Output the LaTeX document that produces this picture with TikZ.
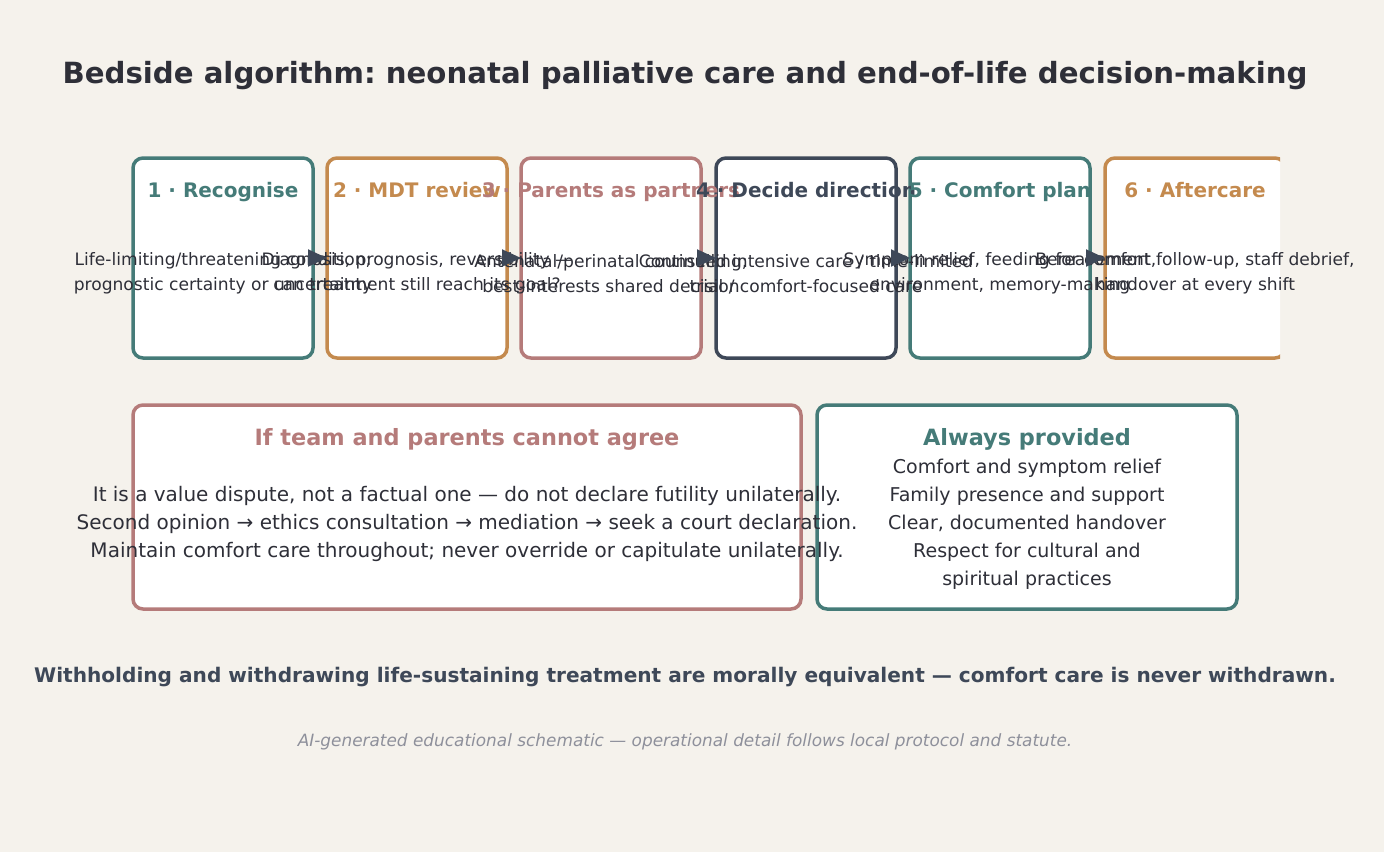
\documentclass[tikz,border=0pt]{standalone}
\usepackage{fontspec}
\setmainfont{DejaVu Sans}
\usetikzlibrary{arrows.meta}
\definecolor{bgc}{HTML}{F5F2EC}
\definecolor{cteal}{HTML}{457B78}
\definecolor{cochre}{HTML}{C48A4E}
\definecolor{crose}{HTML}{B57B7A}
\definecolor{cslate}{HTML}{3E4858}
\definecolor{cink}{HTML}{2E2F38}
\definecolor{cmuted}{HTML}{8E909B}
\frenchspacing
\begin{document}
\begin{tikzpicture}[x=1pt,y=-1pt,
  stepbox/.style={draw=#1, line width=3.5pt, rounded corners=10pt, fill=white,
    minimum width=180pt, minimum height=200pt, anchor=north west, inner sep=0pt, outer sep=0pt},
  panel/.style={draw=#1, line width=3.5pt, rounded corners=10pt, fill=white,
    minimum height=204pt, anchor=north west, inner sep=0pt, outer sep=0pt},
  steptitle/.style={font=\fontsize{20}{24}\selectfont\bfseries, text=#1, inner sep=0pt, anchor=base},
  stepbody/.style={font=\fontsize{17.1}{25}\selectfont, text=cink, align=center, inner sep=0pt},
  paneltitle/.style={font=\fontsize{22.4}{26}\selectfont\bfseries, text=#1, inner sep=0pt},
  flowarrow/.style={draw=cslate, line width=2pt, -{Triangle[length=19pt,width=17pt]}},
]
\fill[bgc] (0,0) rectangle (1384,852);
\useasboundingbox (0,0) rectangle (1384,852);

\node[font=\fontsize{29.2}{34}\selectfont\bfseries, text=cink] (title) at (685,76)
  {Bedside algorithm: neonatal palliative care and end-of-life decision-making};

% step boxes
\node[stepbox=cteal] (b1) at (133,158) {};
\node[stepbox=cochre] (b2) at (327,158) {};
\node[stepbox=crose] (b3) at (521,158) {};
\node[stepbox=cslate] (b4) at (716,158) {};
\node[stepbox=cteal] (b5) at (910,158) {};
\begin{scope}
  \clip (0,0) rectangle (1280,852);
  \node[stepbox=cochre] (b6) at (1105,158) {};
\end{scope}

\node[steptitle=cteal] (t1) at (223,197) {1 · Recognise};
\node[steptitle=cochre] (t2) at (417,197) {2 · MDT review};
\node[steptitle=crose] (t3) at (611,197) {3 · Parents as partners};
\node[steptitle=cslate] (t4) at (806,197) {4 · Decide direction};
\node[steptitle=cteal] (t5) at (1000,197) {5 · Comfort plan};
\node[steptitle=cochre] (t6) at (1195,197) {6 · Aftercare};

\node[stepbody] (d1) at (223,273.5) {Life-limiting/threatening condition;\\prognostic certainty or uncertainty};
\node[stepbody] (d2) at (417,273.5) {Diagnosis, prognosis, reversibility —\\can treatment still reach its goal?};
\node[stepbody] (d3) at (611,273.5) {Antenatal/perinatal counselling;\\best-interests shared decision};
\node[stepbody] (d4) at (806,274.5) {Continued intensive care / time-limited\\trial / comfort-focused care};
\node[stepbody] (d5) at (1000,273.5) {Symptom relief, feeding for comfort,\\environment, memory-making};
\node[stepbody] (d6) at (1195,273.5) {Bereavement follow-up, staff debrief,\\handover at every shift};

\draw[flowarrow] (b1.east) -- (b2.west);
\draw[flowarrow] (b2.east) -- (b3.west);
\draw[flowarrow] (b3.east) -- (b4.west);
\draw[flowarrow] (b4.east) -- (b5.west);
\draw[flowarrow] (b5.east) -- (b6.west);

% panels
\node[panel=crose, minimum width=668pt] (p1) at (133,405) {};
\node[panel=cteal, minimum width=420pt] (p2) at (817,405) {};
\node[paneltitle=crose] (pt1) at (467,439) {If team and parents cannot agree};
\node[paneltitle=cteal] (pt2) at (1027,439) {Always provided};
\node[font=\fontsize{20}{28}\selectfont, text=cink, align=center, inner sep=0pt] (pb1) at (467,524)
  {It is a value dispute, not a factual one — do not declare futility unilaterally.\\
   Second opinion → ethics consultation → mediation → seek a court declaration.\\
   Maintain comfort care throughout; never override or capitulate unilaterally.};
\node[font=\fontsize{19}{28}\selectfont, text=cink, align=center, inner sep=0pt] (pb2) at (1027,524)
  {Comfort and symptom relief\\Family presence and support\\Clear, documented handover\\Respect for cultural and\\spiritual practices};

\node[font=\fontsize{20.1}{24}\selectfont\bfseries, text=cslate, inner sep=0pt] (note) at (685,677)
  {Withholding and withdrawing life-sustaining treatment are morally equivalent — comfort care is never withdrawn.};
\node[font=\fontsize{16.9}{20}\selectfont\itshape, text=cmuted, inner sep=0pt] (foot) at (685,742)
  {AI-generated educational schematic — operational detail follows local protocol and statute.};
\end{tikzpicture}
\end{document}
